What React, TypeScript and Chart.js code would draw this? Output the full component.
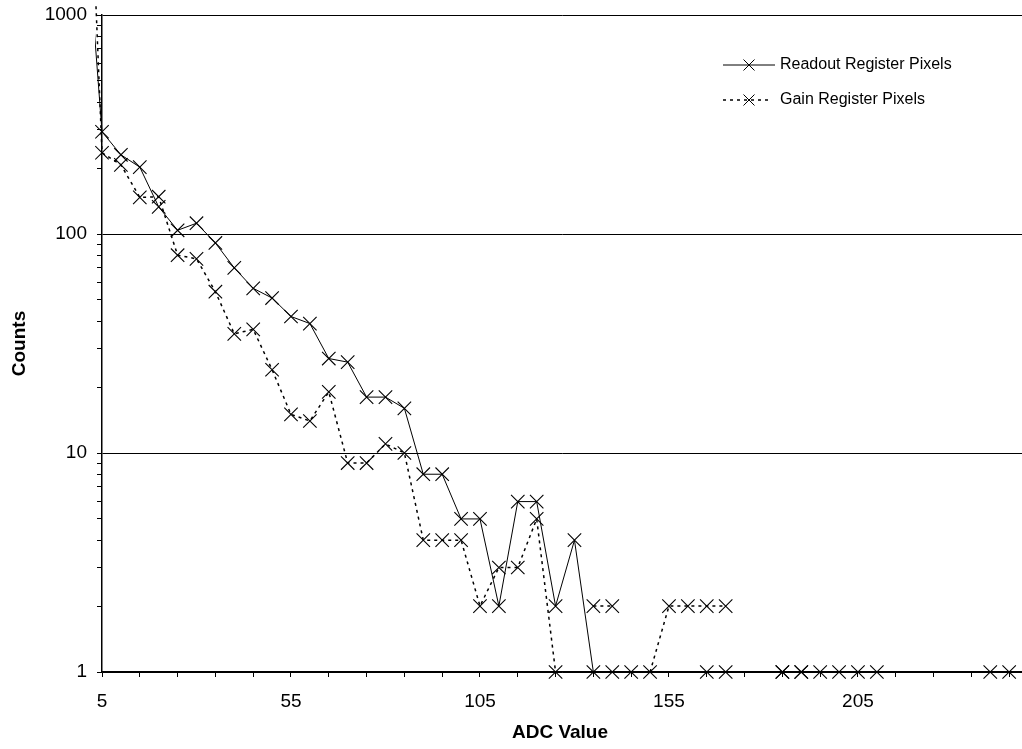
import React, { useEffect, useRef } from 'react';
import { Chart, registerables } from 'chart.js';

Chart.register(...registerables);

// ADC bin values (x)
const adcValues = [0, 5, 10, 15, 20, 25, 30, 35, 40, 45, 50, 55, 60, 65, 70, 75, 80, 85, 90, 95, 100, 105, 110, 115, 120, 125, 130, 135, 140, 145, 150, 155, 160, 165, 170, 175, 180, 185, 190, 195, 200, 205, 210, 215, 220, 225, 230, 235, 240, 245];

// Readout register pixel counts (null = empty bin)
const readoutCounts = [4000, 293, 230, 202, 133, 104, 112, 91, 70, 56.5, 51, 42, 39, 27, 26, 18, 18, 16, 8, 8, 5, 5, 2, 6, 6, 2, 4, 1, 1, 1, null, null, null, 1, 1, null, null, 1, 1, null, 1, null, null, null, null, null, null, null, null, null];

// Gain register pixel counts (null = empty bin)
const gainCounts = [30000, 235, 207, 147, 148, 80, 77, 54.5, 35, 36.7, 24, 15, 14, 19, 9, 9, 11, 10, 4, 4, 4, 2, 3, 3, 5, 1, null, 2, 2, null, 1, 2, 2, 2, 2, null, null, 1, 1, 1, null, 1, 1, null, null, null, null, null, 1, 1];

const seriesNames = ['Readout Register Pixels', 'Gain Register Pixels'];

const xTickValues = [5, 15, 25, 35, 45, 55, 65, 75, 85, 95, 105, 115, 125, 135, 145, 155, 165, 175, 185, 195, 205, 215, 225, 235, 245];
const xLabelValues = [5, 55, 105, 155, 205];
const yTickValues = [1, 2, 3, 4, 5, 6, 7, 8, 9, 10, 20, 30, 40, 50, 60, 70, 80, 90, 100, 200, 300, 400, 500, 600, 700, 800, 900, 1000];
const yLabelValues = [1, 10, 100, 1000];

const xTitle = 'ADC Value';
const yTitle = 'Counts';

const FONT = '"Liberation Sans", Arial, sans-serif';

const toPoints = (vals: (number | null)[]) => adcValues.map((x, i) => ({ x, y: vals[i] }));

const decorPlugin = {
  id: 'decor',
  afterDraw(chart: any) {
    const ctx = chart.ctx as CanvasRenderingContext2D;
    ctx.save();
    const rows = [
      { y: 65, x1: 723, x2: 775 },
      { y: 100, x1: 723, x2: 771 },
    ];
    chart.data.datasets.forEach((ds: any, i: number) => {
      const r = rows[i];
      ctx.strokeStyle = '#000';
      ctx.lineWidth = ds.borderWidth;
      ctx.setLineDash(ds.borderDash || []);
      ctx.beginPath();
      ctx.moveTo(r.x1, r.y);
      ctx.lineTo(r.x2, r.y);
      ctx.stroke();
      ctx.setLineDash([]);
      ctx.lineWidth = 1;
      const cx = 749;
      const h = 5.5;
      ctx.beginPath();
      ctx.moveTo(cx - h, r.y - h);
      ctx.lineTo(cx + h, r.y + h);
      ctx.moveTo(cx + h, r.y - h);
      ctx.lineTo(cx - h, r.y + h);
      ctx.stroke();
      ctx.fillStyle = '#000';
      ctx.font = `16px ${FONT}`;
      ctx.textAlign = 'left';
      ctx.textBaseline = 'middle';
      ctx.fillText(ds.label, 780, r.y);
    });
    // axis titles
    ctx.font = `bold 19px ${FONT}`;
    ctx.fillStyle = '#000';
    ctx.textAlign = 'center';
    ctx.textBaseline = 'middle';
    const area = chart.chartArea;
    ctx.fillText(xTitle, 560, 733);
    ctx.save();
    ctx.translate(20, (area.top + area.bottom) / 2);
    ctx.rotate(-Math.PI / 2);
    ctx.fillText(yTitle, 0, 0);
    ctx.restore();
    ctx.restore();
  },
};

export default function App() {
  const ref = useRef<HTMLCanvasElement | null>(null);

  useEffect(() => {
    if (!ref.current) return;
    const clip = { left: 7, top: 10, right: 0, bottom: 10 };
    const chart = new Chart(ref.current, {
      type: 'line',
      data: {
        datasets: [
          {
            label: seriesNames[0],
            data: toPoints(readoutCounts),
            borderColor: '#000',
            backgroundColor: '#000',
            borderWidth: 1,
            pointStyle: 'crossRot',
            pointRadius: 9.5,
            pointBorderWidth: 1.1,
            pointBorderColor: '#000',
            fill: false,
            clip,
          } as any,
          {
            label: seriesNames[1],
            data: toPoints(gainCounts),
            borderColor: '#000',
            backgroundColor: '#000',
            borderWidth: 1.5,
            borderDash: [3, 4],
            pointStyle: 'crossRot',
            pointRadius: 9.5,
            pointBorderWidth: 1.1,
            pointBorderColor: '#000',
            fill: false,
            clip,
          } as any,
        ],
      },
      options: {
        responsive: false,
        animation: false,
        events: [],
        layout: { autoPadding: false, padding: { left: 0, top: 15, right: 0, bottom: 0 } },
        plugins: {
          legend: { display: false },
          tooltip: { enabled: false },
        },
        scales: {
          x: {
            type: 'linear',
            min: 5,
            max: 248.4,
            afterFit: (s: any) => {
              s.height = 77;
              s.paddingLeft = 0;
              s.paddingRight = 0;
            },
            afterBuildTicks: (s: any) => {
              s.ticks = xTickValues.map((v) => ({ value: v }));
            },
            ticks: {
              autoSkip: false,
              maxRotation: 0,
              padding: 13,
              color: '#000',
              font: { family: FONT, size: 19 },
              callback: (v: any) => (xLabelValues.includes(Number(v)) ? String(v) : ''),
            },
            grid: {
              drawOnChartArea: false,
              drawTicks: true,
              tickLength: 5,
              tickColor: '#000',
              tickWidth: 1,
            },
            border: { display: true, color: '#000', width: 1.5 },
          },
          y: {
            type: 'logarithmic',
            min: 1,
            max: 1000,
            afterFit: (s: any) => {
              s.width = 102;
              s.paddingTop = 0;
              s.paddingBottom = 0;
            },
            afterBuildTicks: (s: any) => {
              s.ticks = yTickValues.map((v) => ({ value: v }));
            },
            ticks: {
              autoSkip: false,
              padding: 10,
              color: '#000',
              font: { family: FONT, size: 19 },
              callback: (v: any) => (yLabelValues.includes(Number(v)) ? String(v) : ''),
            },
            grid: {
              drawTicks: true,
              tickLength: 5,
              tickColor: '#000',
              tickWidth: 1,
              lineWidth: 1,
              color: (c: any) =>
                c.tick && yLabelValues.includes(Number(c.tick.value)) ? '#000' : 'rgba(0,0,0,0)',
            },
            border: { display: true, color: '#000', width: 1.5 },
          },
        },
      },
      plugins: [decorPlugin],
    });
    return () => chart.destroy();
  }, []);

  return (
    <div style={{ position: 'fixed', left: 0, top: 0, width: 1022, height: 749, background: '#fff' }}>
      <canvas ref={ref} width={1022} height={749} />
    </div>
  );
}
